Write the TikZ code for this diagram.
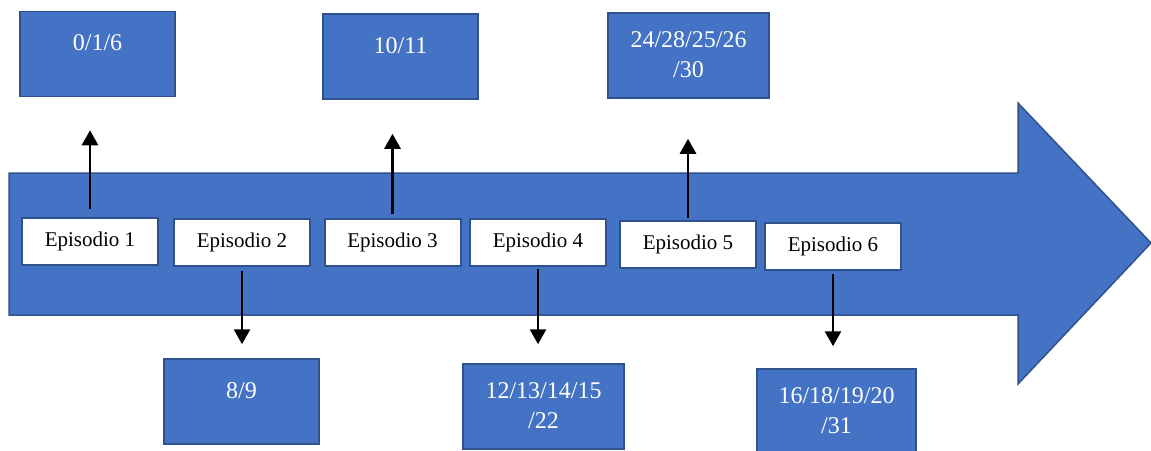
\documentclass[tikz,border=0pt]{standalone}
\usepackage{fontspec}
\setmainfont{Liberation Serif}
\usetikzlibrary{positioning,arrows.meta}
\definecolor{timeline blue}{HTML}{4472C4}
\definecolor{timeline edge}{HTML}{2F528F}
\tikzset{bigarrow/.style={fill=timeline blue, draw=timeline edge, line width=1.5pt},
    numbox/.style={fill=timeline blue, draw=timeline edge, line width=1.5pt, minimum height=85pt, inner sep=0pt},
    numtext/.style={text=white, font=\fontsize{24}{30}\selectfont, align=center, inner sep=0pt},
    epbox/.style={fill=white, draw=timeline edge, line width=2pt, minimum width=136pt, minimum height=47pt, inner sep=0pt, font=\fontsize{21}{24}\selectfont},
    conn/.style={line width=2.8pt, -{Triangle[length=15pt,width=16pt]}}}

\begin{document}
\begin{tikzpicture}[x=1pt, y=-1pt]

\useasboundingbox (0,0) rectangle (1151,450);

% timeline
\draw[bigarrow] (9,173) -- (1018,173) -- (1018,103) -- (1151,243) -- (1018,384) -- (1018,315) -- (9,315) -- cycle;

\node[epbox] (ep1) at (90,241.5) {Episodio 1};
\node[epbox] (ep2) at (242,242) {Episodio 2};
\node[epbox] (ep3) at (392.5,242.5) {Episodio 3};
\node[epbox] (ep4) at (538,242.5) {Episodio 4};
\node[epbox] (ep5) at (688,244) {Episodio 5};
\node[epbox] (ep6) at (833,246.5) {Episodio 6};

% boxes above
\node[numbox, minimum width=155pt] (b1) at (97.5,54) {};
\node[numbox, minimum width=155pt] (b2) at (400.5,56.5) {};
\node[numbox, minimum width=161pt] (b3) at (688.5,55.5) {};
\node[numtext, below=24pt of b1.north] (t1) {0/1/6};
\node[numtext, below=24pt of b2.north] (t2) {10/11};
\node[numtext, below=19.5pt of b3.north] (t3) {24/28/25/26\\/30};

% boxes below
\node[numbox, minimum width=155pt] (b4) at (241.5,401.5) {};
\node[numbox, minimum width=161pt] (b5) at (543.5,406.5) {};
\node[numbox, minimum width=159pt] (b6) at (836.5,411.5) {};
\node[numtext, below=24pt of b4.north] (t4) {8/9};
\node[numtext, below=19pt of b5.north] (t5) {12/13/14/15\\/22};
\node[numtext, below=19pt of b6.north] (t6) {16/18/19/20\\/31};

\draw[conn, shorten <=8pt, shorten >=33pt] (ep1.north) -- (ep1.north |- b1.south);
\draw[conn, shorten <=4pt, shorten >=14pt] (ep2.south) -- (ep2.south |- b4.north);
\draw[conn, shorten <=4pt, shorten >=34pt] (ep3.north) -- (ep3.north |- b2.south);
\draw[conn, shorten <=2pt, shorten >=19pt] (ep4.south) -- (ep4.south |- b5.north);
\draw[conn, shorten <=2pt, shorten >=40pt] (ep5.north) -- (ep5.north |- b3.south);
\draw[conn, shorten <=3pt, shorten >=22pt] (ep6.south) -- (ep6.south |- b6.north);

\end{tikzpicture}
\end{document}
